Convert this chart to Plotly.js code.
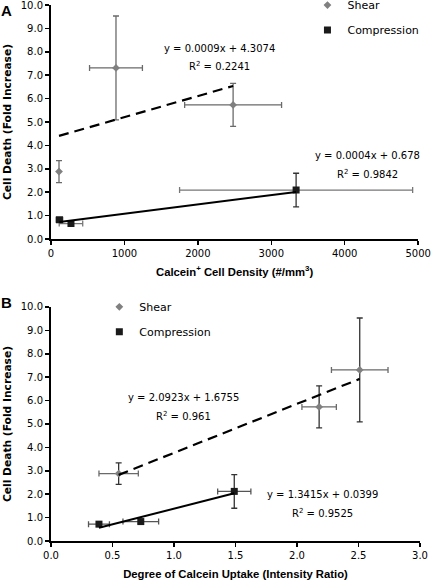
<!DOCTYPE html>
<html><head><meta charset="utf-8">
<script src="https://cdn.plot.ly/plotly-3.0.1.min.js"></script>
<style>html,body{margin:0;padding:0;background:#fff}#chart{width:432px;height:581px}</style>
</head><body><div id="chart"></div>
<script>
// Panel A: cell density
const shearA_x = [109, 885, 2480];
const shearA_y = [2.88, 7.31, 5.73];
const shearA_xerr = [0, 360, 660];
const shearA_yerr = [0.47, 2.22, 0.92];
const compA_x = [115, 272, 3338];
const compA_y = [0.82, 0.66, 2.09];
const compA_xerr = [45, 160, 1587];
const compA_yerr = [0.09, 0.09, 0.72];
// Panel B: calcein uptake
const shearB_x = [0.55, 2.18, 2.51];
const shearB_y = [2.88, 5.73, 7.31];
const shearB_xerr = [0.16, 0.14, 0.23];
const shearB_yerr = [0.46, 0.90, 2.22];
const compB_x = [0.39, 0.73, 1.49];
const compB_y = [0.72, 0.83, 2.12];
const compB_xerr = [0.085, 0.145, 0.135];
const compB_yerr = [0.08, 0.08, 0.72];
// Trendlines (slope, intercept) from the chart's equations
const fitA_shear = [0.0009, 4.3074];
const fitA_comp = [0.0004, 0.678];
const fitB_shear = [2.0923, 1.6755];
const fitB_comp = [1.3415, 0.0399];
const eqLabels = ["y = 0.0009x + 4.3074", "R<sup>2</sup> = 0.2241", "y = 0.0004x + 0.678", "R<sup>2</sup> = 0.9842",
                  "y = 2.0923x + 1.6755", "R<sup>2</sup> = 0.961", "y = 1.3415x + 0.0399", "R<sup>2</sup> = 0.9525"];

function fitLine(xs, f) {
  const lo = Math.min(...xs), hi = Math.max(...xs);
  return {x: [lo, hi], y: [f[0]*lo + f[1], f[0]*hi + f[1]]};
}
const fA1 = fitLine(shearA_x, fitA_shear), fA2 = fitLine(compA_x, fitA_comp);
const fB1 = fitLine(shearB_x, fitB_shear), fB2 = fitLine(compB_x, fitB_comp);

const shearCol = '#808080', compCol = '#1a1a1a';
function errs(xe, ye, cx, cy) {
  return {
    error_x: {type:'data', array: xe, color: cx, thickness: 1.3, width: 3},
    error_y: {type:'data', array: ye, color: cy, thickness: 1.3, width: 3}
  };
}
const traces = [
  Object.assign({x: shearA_x, y: shearA_y, type:'scatter', mode:'markers', name:'Shear', legend:'legend', legendgroup:'a1',
    marker:{symbol:'diamond', size:6, color: shearCol}, xaxis:'x', yaxis:'y'}, errs(shearA_xerr, shearA_yerr, '#6a6a6a', '#6a6a6a')),
  Object.assign({x: compA_x, y: compA_y, type:'scatter', mode:'markers', name:'Compression', legend:'legend', legendgroup:'a2',
    marker:{symbol:'square', size:7, color: compCol}, xaxis:'x', yaxis:'y'}, errs(compA_xerr, compA_yerr, '#777777', '#333333')),
  {x: fA1.x, y: fA1.y, type:'scatter', mode:'lines', line:{color:'#000', width:2.2, dash:'10px,6px'}, showlegend:false, xaxis:'x', yaxis:'y'},
  {x: fA2.x, y: fA2.y, type:'scatter', mode:'lines', line:{color:'#000', width:2}, showlegend:false, xaxis:'x', yaxis:'y'},
  Object.assign({x: shearB_x, y: shearB_y, type:'scatter', mode:'markers', name:'Shear', legend:'legend2', legendgroup:'b1',
    marker:{symbol:'diamond', size:6, color: shearCol}, xaxis:'x2', yaxis:'y2'}, errs(shearB_xerr, shearB_yerr, '#6a6a6a', '#333333')),
  Object.assign({x: compB_x, y: compB_y, type:'scatter', mode:'markers', name:'Compression', legend:'legend2', legendgroup:'b2',
    marker:{symbol:'square', size:7, color: compCol}, xaxis:'x2', yaxis:'y2'}, errs(compB_xerr, compB_yerr, '#555555', '#333333')),
  {x: fB1.x, y: fB1.y, type:'scatter', mode:'lines', line:{color:'#000', width:2.2, dash:'10px,6px'}, showlegend:false, xaxis:'x2', yaxis:'y2'},
  {x: fB2.x, y: fB2.y, type:'scatter', mode:'lines', line:{color:'#000', width:2}, showlegend:false, xaxis:'x2', yaxis:'y2'}
];

const tickFont = {family:'DejaVu Sans, Verdana, sans-serif', size:10, color:'#000'};
const xTitleFont = {family:'Liberation Sans, Arial, sans-serif', size:11.3, color:'#000', weight:'bold'};
const yTitleFont = {family:'DejaVu Sans, Verdana, sans-serif', size:10.7, color:'#000', weight:'bold'};
const annFont = {family:'DejaVu Sans, Verdana, sans-serif', size:10, color:'#000'};
const axCommon = {showgrid:false, zeroline:false, showline:true, linecolor:'#000', linewidth:2,
  ticks:'outside', ticklen:4, tickwidth:1.5, tickcolor:'#000', tickfont: tickFont, automargin:false, ticklabeloverflow:'allow'};

const layout = {
  width:432, height:581, paper_bgcolor:'#fff', plot_bgcolor:'#fff',
  margin:{l:51, r:12, t:5, b:40, autoexpand:false},
  showlegend:true,
  xaxis: Object.assign({}, axCommon, {domain:[0,0.995], range:[0,5000], dtick:1000, tickformat:'d', anchor:'y',
    title:{text:'Calcein<sup>+</sup> Cell Density (#/mm<sup>3</sup>)', font:xTitleFont, standoff:10}}),
  yaxis: Object.assign({}, axCommon, {domain:[0.5634,1], range:[0,10], dtick:1, tickformat:'.1f', anchor:'x',
    title:{text:'Cell Death (Fold Increase)', font:yTitleFont, standoff:7}}),
  xaxis2: Object.assign({}, axCommon, {domain:[0,1], range:[0,3], dtick:0.5, tickformat:'.1f', anchor:'y2',
    title:{text:'Degree of Calcein Uptake (Intensity Ratio)', font:xTitleFont, standoff:10}}),
  yaxis2: Object.assign({}, axCommon, {domain:[0,0.4366], range:[0,10], dtick:1, tickformat:'.1f', anchor:'x2',
    title:{text:'Cell Death (Fold Increase)', font:yTitleFont, standoff:7}}),
  legend: {x:0.695, xanchor:'left', y:1.027, yanchor:'top', bgcolor:'rgba(0,0,0,0)', font:{family:'DejaVu Sans, Verdana, sans-serif', size:11, color:'#000'}, tracegroupgap:6},
  legend2: {x:0.131, xanchor:'left', y:0.464, yanchor:'top', bgcolor:'rgba(0,0,0,0)', font:{family:'DejaVu Sans, Verdana, sans-serif', size:11, color:'#000'}, tracegroupgap:6},
  annotations: [
    {text:'A', xref:'paper', yref:'paper', x:-0.14, y:1.01, xanchor:'left', yanchor:'top', showarrow:false, font:{family:'Liberation Sans, Arial', size:15, weight:'bold', color:'#000'}},
    {text:'B', xref:'paper', yref:'paper', x:-0.14, y:0.464, xanchor:'left', yanchor:'top', showarrow:false, font:{family:'Liberation Sans, Arial', size:15, weight:'bold', color:'#000'}},
    {text:eqLabels[0], xref:'x', yref:'y', x:2300, y:8.16, showarrow:false, font:annFont},
    {text:eqLabels[1], xref:'x', yref:'y', x:2300, y:7.39, showarrow:false, font:annFont},
    {text:eqLabels[2], xref:'x', yref:'y', x:4305, y:3.55, showarrow:false, font:annFont},
    {text:eqLabels[3], xref:'x', yref:'y', x:4305, y:2.78, showarrow:false, font:annFont},
    {text:eqLabels[4], xref:'x2', yref:'y2', x:1.08, y:6.15, showarrow:false, font:annFont},
    {text:eqLabels[5], xref:'x2', yref:'y2', x:1.08, y:5.34, showarrow:false, font:annFont},
    {text:eqLabels[6], xref:'x2', yref:'y2', x:2.21, y:1.97, showarrow:false, font:annFont},
    {text:eqLabels[7], xref:'x2', yref:'y2', x:2.21, y:1.20, showarrow:false, font:annFont}
  ]
};
Plotly.newPlot('chart', traces, layout, {displayModeBar:false, staticPlot:true});
</script></body></html>
